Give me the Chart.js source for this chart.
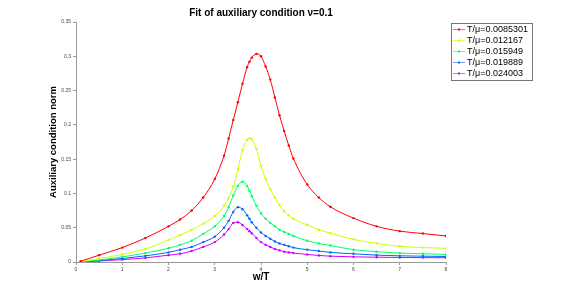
<!DOCTYPE html>
<html>
<head>
<meta charset="utf-8">
<script src="https://cdn.jsdelivr.net/npm/chart.js@4"></script>
<style>
  html, body { margin: 0; padding: 0; background: #fff; }
  #wrap { width: 581px; height: 294px; }
</style>
</head>
<body>
<div id="wrap"><canvas id="fitChart" width="581" height="294"></canvas></div>
<script>
// w/T sample points (shared by all curves)
const wOverT = [0.1, 0.5, 1, 1.5, 2, 2.25, 2.5, 2.75, 3, 3.2, 3.3, 3.4, 3.5, 3.6, 3.7, 3.75, 3.8, 3.9, 4.0, 4.1, 4.2, 4.3, 4.4, 4.5, 4.6, 4.7, 5, 5.25, 5.5, 6, 6.5, 7, 7.5, 8];

const seriesLabels = ['T/\u03bc=0.0085301', 'T/\u03bc=0.012167', 'T/\u03bc=0.015949', 'T/\u03bc=0.019889', 'T/\u03bc=0.024003'];

const norm1 = [0.001, 0.010, 0.021, 0.035, 0.052, 0.062, 0.075, 0.094, 0.121, 0.155, 0.180, 0.207, 0.233, 0.260, 0.284, 0.292, 0.298, 0.3035, 0.300, 0.285, 0.266, 0.240, 0.214, 0.191, 0.170, 0.151, 0.113, 0.094, 0.0805, 0.064, 0.052, 0.045, 0.0415, 0.038];
const norm2 = [0.0005, 0.005, 0.011, 0.019, 0.032, 0.039, 0.047, 0.056, 0.067, 0.082, 0.093, 0.110, 0.135, 0.163, 0.178, 0.1806, 0.179, 0.165, 0.140, 0.121, 0.106, 0.094, 0.083, 0.074, 0.068, 0.063, 0.054, 0.047, 0.042, 0.033, 0.027, 0.023, 0.021, 0.020];
const norm3 = [0.0003, 0.003, 0.0075, 0.013, 0.020, 0.025, 0.031, 0.041, 0.052, 0.067, 0.080, 0.097, 0.111, 0.117, 0.111, 0.104, 0.096, 0.082, 0.071, 0.063, 0.057, 0.052, 0.047, 0.044, 0.041, 0.038, 0.031, 0.027, 0.024, 0.018, 0.015, 0.013, 0.012, 0.011];
const norm4 = [0.0002, 0.002, 0.005, 0.009, 0.014, 0.018, 0.022, 0.029, 0.037, 0.050, 0.060, 0.073, 0.080, 0.077, 0.068, 0.063, 0.058, 0.050, 0.043, 0.038, 0.034, 0.030, 0.027, 0.025, 0.023, 0.021, 0.018, 0.016, 0.014, 0.012, 0.010, 0.009, 0.0085, 0.008];
const norm5 = [0.0001, 0.0015, 0.0035, 0.006, 0.010, 0.012, 0.016, 0.022, 0.029, 0.040, 0.048, 0.057, 0.058, 0.054, 0.048, 0.045, 0.042, 0.035, 0.029, 0.025, 0.022, 0.019, 0.017, 0.015, 0.014, 0.013, 0.011, 0.0095, 0.0085, 0.0075, 0.007, 0.0066, 0.0064, 0.0062];

const yTicks = [0, 0.05, 0.1, 0.15, 0.2, 0.25, 0.3, 0.35];

const colors = ['#ff0000', '#ccff00', '#00ff66', '#0066ff', '#cc00ff'];
const allNorms = [norm1, norm2, norm3, norm4, norm5];

const datasets = allNorms.map((vals, i) => ({
    label: seriesLabels[i],
    data: vals.map((v, j) => ({ x: wOverT[j], y: v })),
    borderColor: colors[i],
    backgroundColor: colors[i],
    borderWidth: 1,
    pointRadius: 1.2,
    pointBorderWidth: 0,
    pointBackgroundColor: colors[i],
    cubicInterpolationMode: 'monotone',
    fill: false
}));

// boxed legend to the right of the plot, matching the original layout
const boxLegend = {
    id: 'boxLegend',
    afterDraw(chart) {
        const ctx = chart.ctx;
        const left = chart.chartArea.right + 5;
        const top = chart.chartArea.top + 1;
        const rowH = 11;
        ctx.save();
        ctx.font = '9px "Liberation Sans"';
        let maxW = 0;
        chart.data.datasets.forEach(ds => { maxW = Math.max(maxW, ctx.measureText(ds.label).width); });
        const w = 16 + maxW + 4;
        const h = rowH * chart.data.datasets.length + 2;
        ctx.fillStyle = '#fff';
        ctx.fillRect(left, top, w, h);
        ctx.strokeStyle = '#777';
        ctx.lineWidth = 1;
        ctx.strokeRect(left + 0.5, top + 0.5, w, h);
        chart.data.datasets.forEach((ds, i) => {
            const cy = top + 6.5 + i * rowH;
            ctx.strokeStyle = ds.borderColor;
            ctx.globalAlpha = 0.6;
            ctx.beginPath();
            ctx.moveTo(left + 2, cy);
            ctx.lineTo(left + 14, cy);
            ctx.stroke();
            ctx.globalAlpha = 1;
            ctx.fillStyle = ds.borderColor;
            ctx.fillRect(left + 7, cy - 1, 2, 2);
            ctx.fillStyle = '#000';
            ctx.textBaseline = 'middle';
            ctx.fillText(ds.label, left + 16, cy);
        });
        ctx.restore();
    }
};

const tickFont = { family: 'Liberation Sans', size: 5 };

new Chart(document.getElementById('fitChart'), {
    type: 'line',
    data: { datasets: datasets },
    options: {
        responsive: false,
        animation: false,
        layout: { padding: { left: 0, right: 135, top: 0, bottom: 0 } },
        plugins: {
            title: {
                display: true,
                fullSize: false,
                text: 'Fit of auxiliary condition \u03bd=0.1',
                color: '#000',
                font: { family: 'Liberation Sans', size: 10, weight: 'bold' },
                padding: { top: 7, bottom: 3 }
            },
            legend: { display: false },
            tooltip: { enabled: false }
        },
        scales: {
            x: {
                type: 'linear',
                min: 0,
                max: 8,
                ticks: { stepSize: 1, font: tickFont, color: '#444', padding: 2 },
                grid: { drawOnChartArea: false, drawTicks: true, tickLength: 3, color: '#999' },
                border: { color: '#999' },
                title: {
                    display: true,
                    text: 'w/T',
                    color: '#000',
                    font: { family: 'Liberation Sans', size: 10, weight: 'bold' },
                    padding: { top: 0, bottom: 11 }
                },
                afterFit(scale) { scale.height = 32; }
            },
            y: {
                min: 0,
                max: 0.35,
                afterBuildTicks(scale) { scale.ticks = yTicks.map(v => ({ value: v })); },
                ticks: { font: tickFont, color: '#444', padding: 2, callback: v => String(+v.toFixed(2)) },
                grid: { drawOnChartArea: false, drawTicks: true, tickLength: 3, color: '#999' },
                border: { color: '#999' },
                title: {
                    display: true,
                    text: 'Auxiliary condition norm',
                    color: '#000',
                    font: { family: 'Liberation Sans', size: 9.5, weight: 'bold' },
                    padding: { top: 48, bottom: 0 }
                },
                afterFit(scale) { scale.width = 76; }
            }
        }
    },
    plugins: [boxLegend]
});
</script>
</body>
</html>
